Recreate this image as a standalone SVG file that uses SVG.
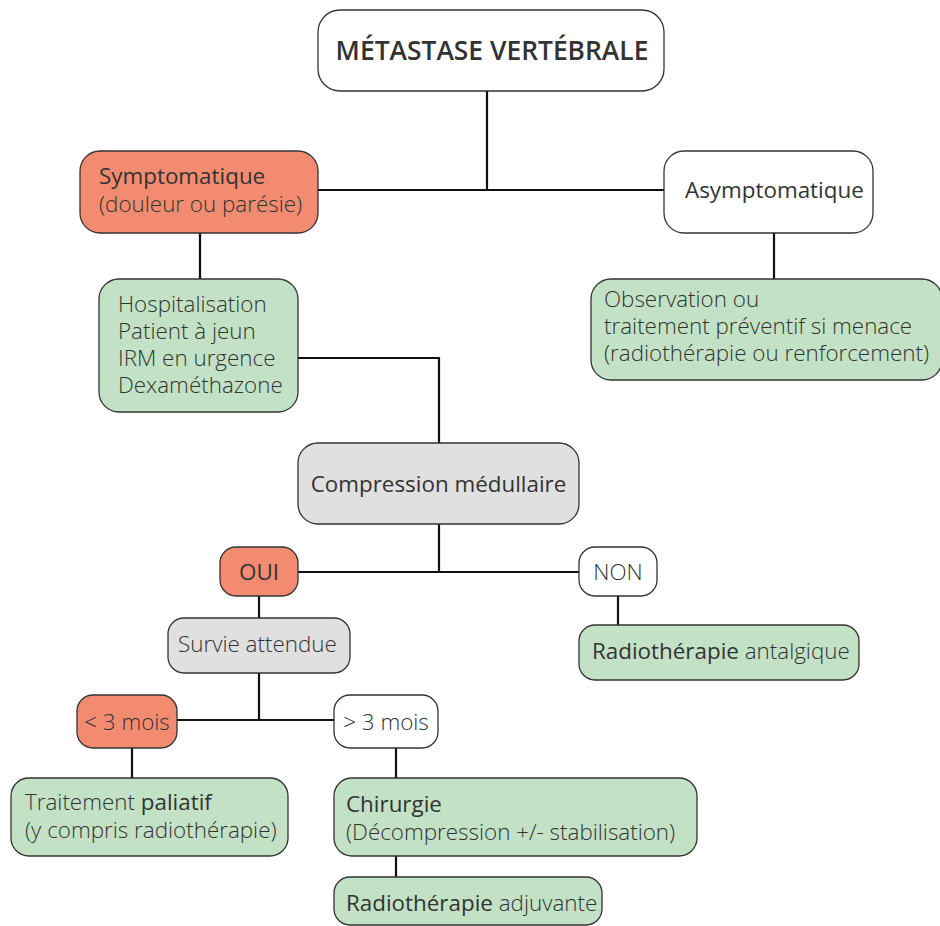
<svg xmlns="http://www.w3.org/2000/svg" width="940" height="926" viewBox="0 0 940 926">
<style>
text{font-family:"Open Sans","Noto Sans","Liberation Sans",sans-serif;fill:#333;font-size:22.4px}
.l{font-weight:300}
.n{font-weight:400}
.b{font-weight:600}
.t{font-size:26.4px}
rect{stroke:#333;stroke-width:1.3}
.w{fill:#fff}
.r{fill:#f28b70}
.g{fill:#c3e2c5}
.y{fill:#dfe0df}
#connectors path{fill:none;stroke:#111;stroke-width:2.2}
</style>
<rect width="940" height="926" fill="#fff" style="stroke:none"/>
<g id="connectors">
<path d="M487 91V190M318 190H664"/>
<path d="M200 233V279"/>
<path d="M774 233V279"/>
<path d="M298 358H439V443"/>
<path d="M439 524V572M298 572H579"/>
<path d="M259 596V618"/>
<path d="M618 596V625"/>
<path d="M259 673V720M177 720H334"/>
<path d="M132 748V778"/>
<path d="M396 748V778"/>
<path d="M396 856V877"/>
</g>
<g id="metastase"><rect class="w" x="318" y="10" width="346" height="81" rx="22"/><text class="b t" x="492" y="60" text-anchor="middle">MÉTASTASE VERTÉBRALE</text></g>
<g id="symptomatique"><rect class="r" x="80" y="151" width="238" height="82" rx="20"/><text x="99" y="184"><tspan class="n">Symptomatique</tspan><tspan class="l" x="99" dy="28">(douleur ou parésie)</tspan></text></g>
<g id="asymptomatique"><rect class="w" x="664" y="151" width="209" height="82" rx="20"/><text class="n" x="685" y="198">Asymptomatique</text></g>
<g id="observation"><rect class="g" x="591" y="279" width="351" height="101" rx="20"/><text class="l" x="604" y="307">Observation ou<tspan x="604" dy="27">traitement préventif si menace</tspan><tspan x="604" dy="27">(radiothérapie ou renforcement)</tspan></text></g>
<g id="hospitalisation"><rect class="g" x="99" y="279" width="199" height="133" rx="20"/><text class="l" x="118" y="312">Hospitalisation<tspan x="118" dy="27">Patient à jeun</tspan><tspan x="118" dy="27">IRM en urgence</tspan><tspan x="118" dy="27">Dexaméthazone</tspan></text></g>
<g id="compression"><rect class="y" x="298" y="443" width="281" height="81" rx="20"/><text class="n" x="438.5" y="492" text-anchor="middle">Compression médullaire</text></g>
<g id="oui"><rect class="r" x="220" y="547" width="78" height="49" rx="16"/><text class="n" x="259" y="580" text-anchor="middle">OUI</text></g>
<g id="non"><rect class="w" x="579" y="547" width="78" height="49" rx="16"/><text class="l" x="618" y="580" text-anchor="middle">NON</text></g>
<g id="radiotherapie-antalgique"><rect class="g" x="579" y="625" width="280" height="55" rx="16"/><text x="592" y="659"><tspan class="n">Radiothérapie</tspan><tspan class="l"> antalgique</tspan></text></g>
<g id="survie"><rect class="y" x="168" y="618" width="182" height="55" rx="16"/><text class="l" x="178" y="652">Survie attendue</text></g>
<g id="moins3"><rect class="r" x="77" y="695" width="100" height="53" rx="16"/><text class="l" x="127" y="730" text-anchor="middle">&lt; 3 mois</text></g>
<g id="plus3"><rect class="w" x="334" y="695" width="104" height="53" rx="16"/><text class="l" x="386" y="730" text-anchor="middle">&gt; 3 mois</text></g>
<g id="palliatif"><rect class="g" x="11" y="778" width="277" height="78" rx="18"/><text x="25" y="810"><tspan class="l">Traitement </tspan><tspan class="n">paliatif</tspan><tspan class="l" x="25" dy="28">(y compris radiothérapie)</tspan></text></g>
<g id="chirurgie"><rect class="g" x="334" y="778" width="363" height="78" rx="18"/><text x="346" y="812"><tspan class="n">Chirurgie</tspan><tspan class="l" x="346" dy="28">(Décompression +/- stabilisation)</tspan></text></g>
<g id="radiotherapie-adjuvante"><rect class="g" x="334" y="877" width="268" height="48" rx="16"/><text x="346" y="911"><tspan class="n">Radiothérapie</tspan><tspan class="l"> adjuvante</tspan></text></g>
</svg>
